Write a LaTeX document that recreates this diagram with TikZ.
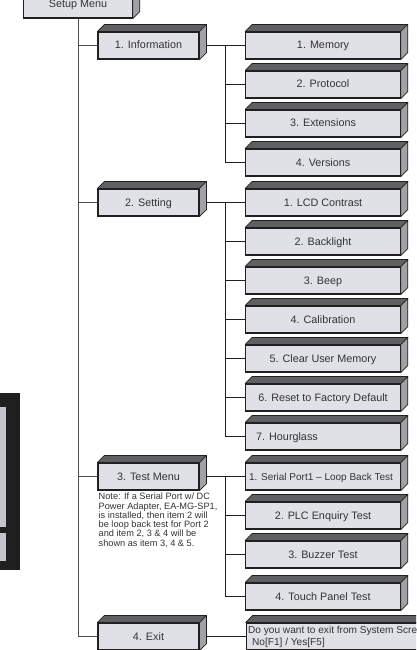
\documentclass[tikz,border=0pt]{standalone}
\usepackage{fontspec}
\setmainfont{Liberation Sans}
\definecolor{frontc}{HTML}{E0E1E6}
\definecolor{topc}{HTML}{5F6062}
\definecolor{sidec}{HTML}{A0A2A5}
\definecolor{linec}{HTML}{231F20}
\definecolor{textc}{HTML}{333333}
\definecolor{panelc}{HTML}{C4C5CA}
\tikzset{
  frontbox/.style={draw=linec,line width=1.1pt,fill=frontc,rectangle,inner sep=0pt,
    minimum height=27pt,text=textc,text height=9.5pt,text depth=2.5pt,font=\fontsize{10.8}{12}\selectfont},
  smallbox/.style={frontbox,minimum width=101pt},
  bigbox/.style={frontbox,minimum width=154.5pt},
  faceline/.style={draw=linec,line width=0.7pt,line join=round},
  conn/.style={draw=linec,line width=1pt},
  trunk/.style={draw=linec!80,line width=1pt},
  notetext/.style={text=textc,font=\fontsize{9.2}{9.25}\selectfont,align=left,inner sep=0pt},
}
% faces of the 3-D box behind a named front node
\newcommand{\boxfaces}[1]{%
  \path[faceline,fill=topc] (#1.north west) -- ++(7,-7) -| ([xshift=7pt,yshift=7pt]#1.north east) -- (#1.north east) -- cycle;
  \path[faceline,fill=sidec] (#1.north east) -- ++(7,-7) -- ([xshift=7pt,yshift=7pt]#1.south east) -- (#1.south east) -- cycle;
}
\begin{document}
\begin{tikzpicture}[x=1pt,y=-1pt]
\useasboundingbox (0,0) rectangle (416,650);
\clip (0,0) rectangle (416,650);
% panel at the left edge
\fill[black!88] (0,393) rectangle (20,570);
\fill[panelc] (0,407) rectangle (6,527);
\fill[panelc] (0,533) rectangle (6,561);
% front nodes
\node[frontbox,minimum width=108.5pt,minimum height=27pt] (setup) at (78,4.5) {Setup Menu};
\node[smallbox] (info) at (148.5,45.5) {1. Information};
\node[smallbox] (sett) at (148.5,202.5) {2. Setting};
\node[smallbox] (test) at (148.5,476.5) {3. Test Menu};
\node[smallbox] (exit) at (148.5,636.5) {4. Exit};
\node[bigbox] (mem) at (323,45.5) {1. Memory};
\node[bigbox] (prot) at (323,84.5) {2. Protocol};
\node[bigbox] (ext) at (323,123.5) {3. Extensions};
\node[bigbox] (vers) at (323,162.5) {4. Versions};
\node[bigbox] (lcd) at (323,202.5) {1. LCD Contrast};
\node[bigbox] (back) at (323,241.5) {2. Backlight};
\node[bigbox] (beep) at (323,280.5) {3. Beep};
\node[bigbox] (cal) at (323,319.5) {4. Calibration};
\node[bigbox] (clear) at (323,358.5) {5. Clear User Memory};
\node[bigbox] (reset) at (323,397.5) {6. Reset to Factory Default};
\node[bigbox] (hour) at (323,436.5) {7. Hourglass\hspace*{72pt}};
\node[bigbox,font=\fontsize{10}{12}\selectfont] (serial) at (323,476.5) {1. Serial Port1 -- Loop Back Test\hspace*{4pt}};
\node[bigbox] (plc) at (323,515.5) {2. PLC Enquiry Test};
\node[bigbox] (buzz) at (323,554.5) {3. Buzzer Test};
\node[bigbox] (touch) at (323,596.5) {4. Touch Panel Test};
\node[frontbox,minimum width=200pt,anchor=west,align=left] (quit) at (245.75,636.5) {};
\foreach \n in {setup,info,sett,test,exit,mem,prot,ext,vers,lcd,back,beep,cal,clear,reset,hour,serial,plc,buzz,touch,quit}{\boxfaces{\n}}
\node[anchor=west,inner sep=0pt,text=textc,font=\fontsize{10.1}{11.3}\selectfont,align=left] (quitt) at (248,636.8)
  {Do you want to exit from System Scre\\\hspace*{4pt}No[F1] / Yes[F5]};
\node[notetext,anchor=north west] (note) at (98.5,493) {Note: If a Serial Port w/ DC\\Power Adapter, EA-MG-SP1,\\is installed, then item 2 will\\be loop back test for Port 2\\and item 2, 3 \& 4 will be\\shown as item 3, 4 \& 5.};
% connectors
\coordinate (ja) at (225.7,45.5);
\coordinate (jb) at (225.7,202.5);
\coordinate (jc) at (225.7,476.5);
\path[trunk] (setup.south) |- (info.west);
\path[trunk] (setup.south) |- (sett.west);
\path[trunk] (setup.south) |- (test.west);
\path[trunk] (setup.south) |- (exit.west);
\coordinate (ie) at ([xshift=7pt]info.east);
\coordinate (se) at ([xshift=7pt]sett.east);
\coordinate (te) at ([xshift=7pt]test.east);
\coordinate (ee) at ([xshift=7pt]exit.east);
\path[conn] (ie) -- (mem.west);
\path[conn] (se) -- (lcd.west);
\path[conn] (te) -- (serial.west);
\path[conn] (ee) -- (quit.west);
\foreach \n in {prot,ext,vers}{\path[conn] (ja) |- (\n.west);}
\foreach \n in {back,beep,cal,clear,reset,hour}{\path[conn] (jb) |- (\n.west);}
\foreach \n in {plc,buzz,touch}{\path[conn] (jc) |- (\n.west);}
\end{tikzpicture}
\end{document}
